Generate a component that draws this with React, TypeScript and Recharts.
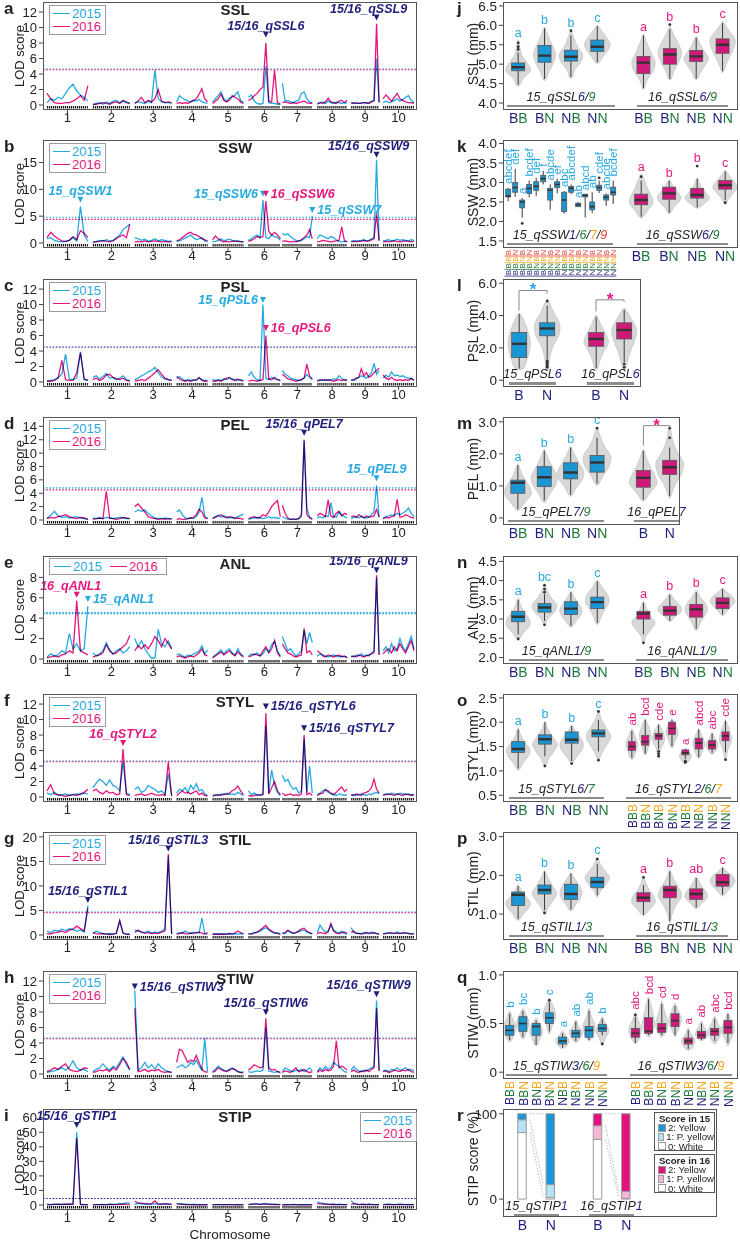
import React from "react";
import { LineChart, Line, XAxis, YAxis, ReferenceLine, ReferenceDot, BarChart, Bar, Cell } from "recharts";

const FONT = "'Liberation Sans', Arial, Helvetica, sans-serif";
const C15 = "#27a9e1";
const C16 = "#e5177e";
const NAVY = "#1f1f7d";
const GREEN = "#1f7a3a";
const ORANGE = "#f4a81d";
const RED = "#e53c2e";
const INK = "#222";
const BOX15 = "#1b96d3";
const BOX16 = "#cf1a7c";
const PALE15 = "#b3e2f5";
const PALE16 = "#f6b6d6";

const PLOT_H = 108;
const M = 14; // room above each chart for labels
const T = (k: number) => Math.round(2 + 138.4 * k);

// genetic map on a common axis: chromosome start and length
const CHR_START = [4, 50, 92, 134, 170, 206, 240, 275, 309, 341];
const CHR_LEN = [41, 37, 37, 31, 31, 32, 30, 30, 28, 31];
const CENTERS = CHR_START.map((s, i) => s + CHR_LEN[i] / 2);

// LOD profiles, 12 evenly spaced samples per chromosome
const SSL15 = [
  "0.3 0.8 0.6 1.0 0.8 1.5 2.2 2.7 1.8 1.3 1.0 0.5",
  "0.0 0.2 0.3 0.1 0.4 0.2 0.5 0.6 0.3 0.5 0.4 0.2",
  "0.3 0.4 0.3 0.2 0.5 0.3 4.5 0.8 0.4 0.3 0.3 0.2",
  "0.4 1.2 0.9 0.7 0.5 0.4 0.6 0.5 0.7 0.4 0.3 0.2",
  "0.4 0.8 1.2 1.7 0.8 0.5 0.9 1.0 1.3 1.7 0.6 0.3",
  "1.0 1.3 0.5 0.2 0.1 0.2 5.0 0.3 0.2 0.2 0.1 0.1",
  "2.8 0.5 0.6 0.4 0.3 0.5 0.6 1.5 1.7 0.8 0.4 0.3",
  "0.2 0.3 0.4 0.2 0.5 0.3 0.2 0.4 0.3 0.2 0.3 0.2",
  "0.2 0.3 0.2 0.2 0.3 0.3 0.2 0.3 0.5 0.6 6.0 0.3",
  "0.3 0.5 0.3 0.4 0.6 0.8 0.5 0.7 1.0 1.2 0.6 0.3",
];
const SSL16 = [
  "1.5 0.8 0.3 0.2 0.2 0.3 0.3 0.5 0.8 1.2 0.6 2.5",
  "0.1 0.1 0.2 0.3 0.2 0.1 0.3 0.4 0.2 0.6 0.3 0.2",
  "0.2 0.5 1.0 0.3 0.6 0.4 0.8 2.0 0.5 0.3 0.4 0.3",
  "0.2 0.3 0.2 0.3 0.2 0.4 0.6 0.8 1.4 2.1 0.8 0.4",
  "0.2 0.5 0.8 1.4 0.6 0.4 0.6 1.2 1.0 0.8 0.4 0.2",
  "0.6 0.8 1.2 1.5 2.0 2.3 8.0 0.5 0.4 4.5 0.3 0.1",
  "0.3 0.4 0.3 0.2 0.3 0.2 0.3 0.4 0.5 0.3 0.2 0.2",
  "0.1 0.3 0.2 0.4 0.9 0.4 0.3 0.2 0.5 0.6 0.3 0.6",
  "0.3 0.2 0.3 0.2 0.2 0.3 0.3 0.2 0.4 0.5 10.5 0.4",
  "0.8 1.3 0.9 0.5 1.0 1.5 0.8 0.6 0.4 0.3 0.3 0.2",
];
const SSW15 = [
  "0.8 1.0 0.5 0.3 0.2 0.3 0.5 1.0 0.4 6.8 1.5 0.3",
  "0.2 0.3 0.5 0.3 0.6 0.4 0.5 1.0 1.5 2.5 3.0 3.5",
  "1.0 0.8 0.5 0.7 0.3 0.5 0.8 0.4 0.6 0.5 0.3 0.4",
  "0.3 0.4 0.6 0.9 1.2 1.5 1.0 0.6 0.8 1.0 0.4 0.2",
  "0.2 0.3 0.5 0.8 0.4 0.6 0.7 0.5 0.3 0.4 0.3 0.2",
  "0.5 0.8 1.2 1.5 1.0 8.0 1.0 0.8 1.5 1.2 1.0 0.5",
  "1.8 1.5 1.7 1.2 0.8 0.5 0.3 0.5 0.8 1.2 1.0 5.0",
  "0.8 1.5 1.3 1.0 0.8 1.2 1.0 0.6 0.3 0.2 0.3 0.2",
  "0.3 0.5 0.4 0.3 0.5 0.6 0.4 0.5 0.8 1.0 15.5 0.5",
  "0.4 0.5 0.6 0.4 0.5 0.7 0.5 0.6 0.5 0.4 0.6 0.5",
];
const SSW16 = [
  "1.0 2.0 1.3 0.8 0.4 0.3 0.5 1.2 0.6 2.3 1.8 1.0",
  "0.1 0.2 0.3 0.5 0.3 0.2 0.4 0.8 1.2 1.5 1.0 3.5",
  "0.2 0.3 0.2 0.4 0.2 0.3 0.4 0.3 0.2 0.3 0.2 0.2",
  "0.4 0.6 1.0 1.4 1.8 2.0 1.6 1.5 1.2 0.8 0.6 0.4",
  "0.6 1.3 0.8 0.4 0.2 0.3 0.2 0.3 0.4 0.3 0.2 0.2",
  "0.3 0.5 0.8 1.2 1.0 1.2 7.8 2.2 1.5 2.0 1.5 0.8",
  "0.3 0.4 0.3 0.2 0.3 0.2 0.4 0.6 1.0 1.5 2.5 0.8",
  "0.2 0.3 0.5 0.4 0.3 0.2 0.3 0.4 0.5 3.0 0.4 0.3",
  "0.2 0.3 0.2 0.4 0.3 0.5 0.3 0.4 0.6 0.8 5.5 0.4",
  "0.2 0.3 0.2 0.3 0.4 0.3 0.2 0.3 0.4 0.3 0.2 0.3",
];
const PSL15 = [
  "0.1 0.2 0.3 0.6 1.0 3.6 0.4 0.3 0.5 3.9 0.3 0.2",
  "0.6 0.8 0.4 0.7 1.1 0.5 0.6 0.3 0.5 0.8 0.3 0.2",
  "0.3 0.5 0.8 1.0 1.3 1.5 1.9 1.2 0.6 0.4 0.3 0.2",
  "0.5 0.7 0.4 0.2 0.3 0.2 0.3 0.2 0.5 0.3 0.2 0.2",
  "0.3 0.2 0.3 0.2 0.4 0.3 0.5 0.4 0.3 0.2 0.3 0.2",
  "0.8 1.3 0.6 0.3 0.2 10.0 0.5 0.3 0.6 0.4 0.3 0.2",
  "1.5 1.0 0.8 0.5 0.4 0.3 0.2 0.3 0.5 1.0 0.6 0.3",
  "0.2 0.3 0.2 0.3 0.2 0.3 0.4 0.3 0.8 0.5 0.2 0.3",
  "0.3 0.2 0.4 0.6 0.8 0.7 0.5 0.8 1.2 2.4 1.0 1.5",
  "0.5 0.9 0.6 1.3 0.8 0.9 0.7 0.8 0.6 0.5 0.4 0.3",
];
const PSL16 = [
  "0.1 0.1 0.2 0.5 2.8 0.3 0.2 0.2 1.2 3.8 0.4 0.2",
  "0.3 0.5 0.2 0.4 0.9 1.0 0.6 0.4 0.3 0.5 0.2 0.1",
  "0.1 0.2 0.3 0.2 0.5 0.8 1.2 1.6 1.0 0.5 0.3 0.2",
  "0.7 0.4 0.2 0.1 0.2 0.1 0.2 0.3 0.6 0.2 0.1 0.1",
  "0.1 0.1 0.2 0.1 0.3 0.5 0.6 0.3 0.2 0.4 0.2 0.1",
  "0.1 0.2 0.2 0.1 0.2 0.3 6.0 0.4 0.3 0.6 0.3 0.2",
  "1.0 0.7 0.4 0.3 0.2 0.1 0.2 0.3 0.5 2.3 0.8 0.4",
  "0.1 0.2 0.3 0.2 0.3 0.2 0.1 0.2 0.3 0.2 0.3 0.2",
  "0.2 0.3 0.5 0.6 1.7 0.8 1.2 0.6 0.8 1.2 1.5 1.8",
  "0.9 0.5 0.3 0.6 0.3 0.2 0.3 0.2 0.3 0.2 0.5 0.2",
];
const PEL15 = [
  "0.3 0.7 1.3 0.6 0.4 0.5 0.3 0.4 0.5 0.3 0.2 0.1",
  "0.3 0.2 0.3 0.2 0.4 0.3 0.2 0.3 0.4 0.3 0.2 0.2",
  "1.2 1.5 1.3 1.5 1.0 0.6 0.3 0.2 0.2 0.3 0.2 0.2",
  "1.2 1.5 0.8 0.3 0.2 0.3 0.2 0.5 1.2 3.4 0.6 0.2",
  "0.3 0.5 0.7 0.4 0.6 0.5 0.3 0.4 0.3 0.5 0.7 0.9",
  "0.1 0.2 0.3 0.4 0.3 0.2 0.3 0.5 0.3 0.4 0.3 0.2",
  "0.5 0.3 0.1 0.1 0.2 0.1 0.2 0.5 11.8 1.7 0.5 0.2",
  "0.3 0.5 0.3 0.6 0.5 2.6 0.5 0.4 1.2 0.8 0.5 0.3",
  "0.2 0.4 0.5 0.3 0.6 0.4 0.3 0.5 0.8 1.2 5.2 0.4",
  "0.3 0.5 0.6 0.8 0.7 1.0 0.8 1.0 1.3 1.8 1.0 0.5",
];
const PEL16 = [
  "0.2 0.4 0.3 0.5 0.6 0.8 0.5 0.3 0.2 0.4 0.3 0.1",
  "0.1 0.2 0.3 0.2 4.3 0.3 0.2 0.1 0.2 0.4 0.3 0.2",
  "2.0 2.4 1.8 1.2 0.5 0.3 0.2 0.1 0.2 0.1 0.2 0.1",
  "0.1 0.2 0.1 0.1 0.2 0.3 0.4 0.8 1.6 1.2 0.3 0.2",
  "0.2 0.4 0.6 0.8 0.5 0.3 0.5 0.4 0.2 0.3 0.2 0.1",
  "0.2 0.4 0.5 0.3 0.4 0.8 0.6 1.2 2.0 2.5 2.9 0.5",
  "2.2 1.0 0.3 0.1 0.1 0.1 0.2 0.8 12.0 0.8 0.3 0.1",
  "0.6 1.0 0.8 0.5 3.0 0.6 0.4 1.0 1.3 0.6 1.0 0.8",
  "0.5 0.6 0.4 0.8 0.5 0.3 0.6 0.4 0.5 0.6 1.6 0.5",
  "0.2 0.4 0.3 0.5 0.6 3.1 0.4 0.5 0.8 0.6 0.4 0.3",
];
const ANL15 = [
  "0.2 0.5 0.3 0.4 0.8 0.6 2.5 1.0 1.5 0.8 1.0 5.2",
  "0.6 0.3 0.5 0.8 1.6 0.9 0.5 0.8 1.0 0.6 0.8 1.2",
  "2.0 1.2 1.8 1.0 0.5 0.1 0.1 2.9 1.5 1.2 1.8 1.0",
  "0.4 0.5 0.3 0.2 0.4 0.3 0.5 0.6 0.8 1.3 0.5 0.9",
  "0.2 0.4 0.6 0.9 0.5 0.8 1.0 0.6 0.4 1.0 0.5 0.3",
  "0.3 0.5 0.4 0.6 0.3 0.5 1.0 0.7 1.4 1.7 0.8 0.3",
  "2.2 1.5 0.8 1.0 0.6 0.3 0.5 0.8 2.8 1.5 2.6 1.6",
  "0.3 0.5 0.4 0.3 0.2 0.3 0.4 0.3 0.2 0.3 0.2 0.2",
  "0.3 0.2 0.4 0.3 0.5 0.3 0.4 0.3 0.6 0.8 8.0 0.5",
  "0.8 1.2 0.6 1.5 0.8 1.0 2.0 1.2 0.8 1.5 2.2 1.0",
];
const ANL16 = [
  "0.1 0.2 0.3 0.2 0.4 0.5 0.8 0.6 5.7 0.8 0.6 0.4",
  "0.2 0.3 0.4 0.6 1.4 0.8 0.5 0.6 0.9 1.2 1.5 2.3",
  "0.8 1.3 1.0 1.4 1.0 1.5 2.2 1.8 1.2 2.0 1.5 1.0",
  "0.2 0.3 0.2 0.1 0.2 0.3 0.2 0.4 0.6 1.0 0.4 0.3",
  "0.1 0.3 0.5 0.7 0.4 0.6 0.8 0.5 0.3 0.7 0.4 0.2",
  "0.2 0.3 0.5 0.4 0.3 0.8 1.2 0.6 1.0 1.8 0.6 0.2",
  "1.5 1.0 0.6 0.5 0.3 0.2 0.3 0.4 3.0 0.6 0.8 0.4",
  "0.8 0.6 0.3 0.2 0.4 0.3 0.2 0.3 0.4 0.2 0.3 0.1",
  "0.2 0.3 0.2 0.4 0.3 0.2 0.3 0.4 0.5 0.6 8.2 0.4",
  "0.5 0.8 1.0 0.6 1.2 0.8 1.5 1.0 0.6 1.2 1.8 0.8",
];
const STYL15 = [
  "0.5 0.3 0.6 0.2 0.3 0.4 0.2 0.3 0.4 0.3 0.5 0.4",
  "1.2 1.8 2.3 2.0 1.5 2.2 1.5 1.3 0.8 4.5 0.5 0.3",
  "1.0 1.3 0.6 0.8 1.5 1.2 1.0 0.6 0.8 0.3 3.0 0.2",
  "0.5 1.0 0.8 1.2 0.6 1.5 1.0 1.7 0.8 1.0 0.4 0.2",
  "0.2 0.3 0.2 0.4 0.3 0.5 0.3 0.4 0.3 0.6 0.4 0.2",
  "0.8 0.3 0.5 0.2 0.3 0.4 9.2 0.5 3.5 1.5 0.6 0.2",
  "2.8 2.0 2.3 1.5 1.0 1.2 0.5 0.8 7.5 0.6 4.0 0.5",
  "0.3 0.5 0.8 1.0 0.6 0.4 0.3 0.2 0.4 0.3 0.2 0.3",
  "0.2 0.3 0.2 0.3 0.4 0.3 0.2 0.4 0.3 0.5 0.6 0.4",
  "0.3 0.4 0.3 0.5 0.4 0.3 0.5 0.4 0.3 0.4 0.3 0.2",
];
const STYL16 = [
  "0.8 1.6 0.4 0.3 0.2 0.1 0.2 0.3 0.2 0.4 0.6 1.0",
  "0.8 1.0 0.6 0.4 0.8 0.5 0.6 0.3 0.4 6.2 0.3 0.2",
  "0.2 0.3 0.4 0.2 0.3 0.5 0.3 0.2 0.3 0.2 4.5 0.1",
  "0.2 0.5 0.8 0.5 0.6 0.4 0.6 0.8 0.3 0.5 0.2 0.1",
  "0.1 0.2 0.3 0.2 0.4 0.3 0.5 0.8 1.0 1.4 0.8 0.3",
  "0.2 0.1 0.2 0.3 0.2 0.3 10.8 0.4 1.2 2.0 0.8 0.3",
  "0.5 0.2 0.3 0.4 0.2 0.3 0.2 0.4 8.0 0.3 0.5 0.2",
  "0.2 0.4 0.5 0.9 0.8 0.5 0.3 0.6 1.0 1.3 0.7 1.0",
  "0.3 0.2 0.4 0.3 0.2 0.5 0.6 0.8 1.2 2.3 1.0 0.5",
  "0.2 0.3 0.4 0.3 0.2 0.4 0.3 0.2 0.4 0.3 0.2 0.3",
];
const STIL15 = [
  "0.8 0.5 1.0 0.8 1.2 0.9 1.3 1.1 0.8 1.0 0.6 6.0",
  "0.3 0.8 0.5 0.3 0.2 0.3 0.2 0.4 2.8 0.3 0.2 0.2",
  "1.0 0.8 0.6 0.5 0.8 0.4 0.6 0.5 0.8 1.2 16.0 0.2",
  "0.3 0.5 0.4 0.8 0.5 0.3 0.6 0.5 0.4 3.5 0.3 0.2",
  "0.3 0.2 0.3 0.2 0.3 0.2 0.3 0.2 0.3 0.2 0.3 0.2",
  "0.2 0.3 0.5 0.6 0.8 1.2 1.5 1.0 0.6 0.3 0.5 0.2",
  "0.5 0.3 0.8 0.6 0.4 0.5 0.7 0.9 1.0 0.6 0.4 0.3",
  "0.4 2.0 1.2 0.6 0.8 2.0 1.0 0.6 0.4 0.8 0.3 0.2",
  "1.5 0.5 0.3 0.4 0.3 0.5 0.4 0.3 0.6 0.4 0.3 0.2",
  "0.3 0.4 0.5 0.3 0.4 0.6 0.4 0.3 0.5 0.4 0.3 0.2",
];
const STIL16 = [
  "0.3 0.2 0.5 0.6 0.8 0.5 1.0 1.2 1.8 1.3 0.8 5.5",
  "0.5 0.3 0.2 0.3 0.2 0.1 0.2 0.3 3.0 0.4 0.2 0.1",
  "0.5 1.0 0.6 0.4 0.5 0.3 0.4 0.3 0.6 0.8 16.5 0.2",
  "0.2 0.3 0.5 0.3 0.2 0.4 0.3 0.5 0.6 0.4 0.2 0.5",
  "0.1 0.2 0.1 0.2 0.1 0.2 0.3 0.2 0.4 0.8 0.5 0.2",
  "0.3 0.2 0.4 0.6 1.0 1.5 2.0 1.2 0.8 0.5 0.3 0.2",
  "0.2 0.5 1.0 0.6 0.3 0.5 0.8 1.2 1.4 0.8 0.5 0.2",
  "0.2 0.5 0.4 0.3 0.6 2.4 0.8 0.4 0.3 0.5 0.6 0.4",
  "0.5 0.8 0.4 0.3 0.2 0.3 0.5 0.4 0.3 0.5 0.3 0.2",
  "0.2 0.3 0.4 0.5 0.3 0.4 0.3 0.5 0.4 0.3 0.2 0.3",
];
const STIW15 = [
  "0.2 0.3 0.4 0.6 0.8 0.5 0.9 1.7 0.8 0.5 0.6 0.3",
  "0.3 0.6 0.8 1.3 0.8 0.5 1.0 0.8 1.5 2.2 1.2 0.5",
  "10.8 0.5 0.8 1.5 0.8 1.2 0.6 1.3 0.8 0.5 0.3 0.2",
  "0.8 1.0 1.2 0.8 1.0 1.5 1.2 1.8 1.0 0.5 4.6 0.3",
  "0.3 0.6 1.0 0.7 0.5 0.4 0.6 0.8 0.5 0.3 0.2 0.3",
  "0.3 0.2 0.3 0.4 0.3 0.5 6.0 0.4 0.3 0.2 0.3 0.2",
  "0.3 0.8 0.6 0.4 0.3 0.5 0.4 0.6 0.3 0.5 0.8 0.4",
  "0.3 0.8 0.5 1.0 0.6 0.8 1.5 1.2 1.0 0.6 0.3 0.2",
  "0.5 1.0 0.6 0.4 0.3 0.5 0.4 0.6 0.8 1.0 9.5 0.5",
  "0.4 0.5 0.3 0.6 0.5 0.8 0.5 0.6 0.8 0.5 0.6 0.4",
];
const STIW16 = [
  "0.3 0.5 0.8 0.6 1.0 1.3 0.6 0.4 0.3 0.5 0.8 0.7",
  "0.2 0.3 0.5 0.4 0.6 0.3 0.8 0.5 1.2 2.0 1.5 0.6",
  "8.5 0.3 0.4 0.6 0.3 0.5 0.4 0.6 0.3 0.2 0.3 0.2",
  "1.5 3.2 3.0 2.2 1.5 1.8 1.6 2.4 1.5 0.6 0.3 0.2",
  "0.2 0.4 0.8 0.6 0.4 0.3 0.5 0.7 0.6 0.3 0.2 0.1",
  "0.5 0.8 1.2 1.0 0.8 0.9 7.2 0.8 0.5 0.6 0.3 0.2",
  "0.2 0.4 0.3 0.2 0.5 0.8 0.3 0.4 0.6 0.3 0.2 0.3",
  "0.2 0.5 0.3 0.6 0.4 0.5 1.0 4.3 0.8 1.0 0.8 0.5",
  "0.3 0.5 0.3 0.2 0.4 0.3 0.5 0.3 0.6 0.8 8.5 0.4",
  "0.3 0.4 0.2 0.3 0.5 0.4 0.3 0.5 0.4 0.6 0.3 0.2",
];
const STIP15 = [
  "0.5 0.3 0.5 0.4 0.6 0.5 0.8 0.6 50.0 0.5 0.3 0.2",
  "0.2 0.3 0.2 0.4 0.3 0.5 0.4 0.6 0.8 1.0 1.5 1.2",
  "0.5 1.2 0.8 0.6 0.5 0.4 1.0 0.6 0.8 1.0 0.8 0.5",
  "1.0 0.8 0.6 0.5 0.4 0.3 0.5 0.3 0.2 0.3 0.2 0.2",
  "0.2 0.3 0.2 0.3 0.2 0.3 0.2 0.3 0.2 0.3 0.2 0.3",
  "0.5 0.8 0.6 0.9 0.5 0.7 1.0 0.6 0.8 0.5 0.4 0.3",
  "0.2 0.3 0.2 0.3 0.4 0.3 0.2 0.3 0.2 0.3 0.2 0.2",
  "2.0 1.5 1.2 0.8 0.6 0.5 0.4 0.3 0.5 0.4 0.3 0.2",
  "3.0 1.0 0.5 0.3 0.6 0.4 0.3 0.5 0.4 0.3 0.2 0.3",
  "0.3 0.4 0.5 0.4 0.3 0.4 0.5 0.4 0.3 0.4 0.3 0.2",
];
const STIP16 = [
  "0.3 0.2 0.4 0.5 0.3 0.6 0.5 0.4 46.0 0.3 0.2 0.1",
  "0.1 0.2 0.3 0.2 0.3 0.4 0.2 0.3 0.5 0.6 0.4 0.3",
  "2.5 1.5 1.2 1.0 0.8 1.0 2.8 0.6 0.5 0.8 0.6 0.4",
  "0.8 0.6 0.5 0.3 0.2 0.3 0.2 0.1 0.2 0.1 0.2 0.1",
  "0.1 0.2 0.3 0.2 0.1 0.2 0.3 0.2 0.1 0.2 0.1 0.2",
  "0.3 0.5 0.8 0.6 0.4 0.8 0.6 0.5 0.3 0.4 0.2 0.2",
  "0.1 0.2 0.1 0.2 0.3 0.2 0.1 0.2 0.1 0.2 0.1 0.1",
  "1.0 0.8 0.6 0.5 0.4 0.3 0.5 0.3 0.2 0.3 0.2 0.2",
  "0.5 1.0 0.8 0.4 0.3 0.5 0.3 0.4 0.2 0.3 0.2 0.2",
  "0.2 0.3 0.4 0.3 0.2 0.3 0.4 0.3 0.2 0.3 0.2 0.2",
];

// genotype labels
const G1 = ["B", "N", "B", "N"];
const G2 = ["BB", "BN", "NB", "NN"];
const G3 = ["BBB", "BBN", "BNB", "BNN", "NBB", "NBN", "NNB", "NNN"];
const G4 = ["BBBB", "BBBN", "BBNB", "BBNN", "BNBB", "BNBN", "BNNB", "BNNN", "NBBB", "NBBN", "NBNB", "NBNN", "NNBB", "NNBN", "NNNB", "NNNN"];

// box stats: [violin min, whisker low, q1, median, q3, whisker high, violin max]
const SSL_BOX = [
  [4.45, 4.47, 4.83, 4.92, 5.03, 5.3, 5.6], [4.6, 4.62, 5.05, 5.22, 5.48, 5.92, 5.93],
  [4.65, 4.67, 5.08, 5.19, 5.36, 5.74, 5.86], [5.03, 5.05, 5.33, 5.45, 5.62, 5.98, 5.99],
  [4.37, 4.38, 4.76, 5.04, 5.2, 5.74, 5.75], [4.62, 4.62, 5.0, 5.25, 5.4, 5.9, 5.95],
  [4.62, 4.63, 5.07, 5.2, 5.35, 5.68, 5.7], [4.8, 4.82, 5.28, 5.5, 5.65, 6.06, 6.08],
];
const SSL_VIO = [
  [0.1, 0.4, 0.95, 0.7, 0.3, 0.15, 0.05], [0.1, 0.35, 0.7, 0.85, 0.6, 0.3, 0.05],
  [0.1, 0.3, 0.75, 0.9, 0.5, 0.25, 0.05], [0.1, 0.45, 0.8, 1.0, 0.75, 0.4, 0.05],
  [0.05, 0.3, 0.75, 0.9, 0.6, 0.3, 0.05], [0.1, 0.35, 0.7, 0.9, 0.7, 0.35, 0.05],
  [0.1, 0.35, 0.7, 0.95, 0.6, 0.3, 0.05], [0.05, 0.3, 0.6, 0.9, 0.95, 0.5, 0.05],
];
const SSL_OUT = [[5.38, 5.45, 5.55], [], [5.86], [], [], [6.02], [], []];
const SSL_SIG = ["a", "b", "b", "c", "a", "b", "b", "c"];

const SSW_L_BOX = [
  [2.52, 2.52, 2.63, 2.65, 2.83, 2.86, 2.86], [2.63, 2.63, 2.75, 2.87, 3.0, 3.35, 3.35],
  [2.1, 2.1, 2.35, 2.5, 2.55, 2.6, 2.6], [2.62, 2.62, 2.72, 2.85, 2.95, 3.05, 3.05],
  [2.65, 2.65, 2.8, 2.9, 3.02, 3.12, 3.12], [2.95, 2.95, 3.02, 3.1, 3.18, 3.3, 3.3],
  [2.3, 2.3, 2.55, 2.8, 2.85, 2.95, 2.95], [2.72, 2.72, 2.87, 2.95, 3.02, 3.1, 3.1],
  [2.2, 2.2, 2.25, 2.55, 2.75, 2.78, 2.78], [2.7, 2.7, 2.75, 2.85, 2.9, 2.95, 2.95],
  [2.37, 2.37, 2.38, 2.43, 2.47, 2.5, 2.5], [2.1, 2.1, 2.63, 2.67, 2.7, 2.7, 2.7],
  [2.22, 2.22, 2.3, 2.38, 2.5, 2.75, 2.75], [2.73, 2.73, 2.8, 2.87, 2.93, 3.05, 3.05],
  [2.4, 2.4, 2.55, 2.62, 2.68, 2.72, 2.72], [2.45, 2.45, 2.68, 2.75, 2.88, 3.05, 3.05],
];
const SSW_L_OUT = [[], [], [1.95], [], [], [], [], [], [], [], [], [], [], [3.12], [], []];
const SSW_L_SIG = ["abcdef", "def", "a", "bcdef", "def", "f", "abcde", "ef", "abc", "abcdef", "ab", "abcd", "ab", "cdef", "abcde", "bcdef"];
const SSW_R_BOX = [
  [2.1, 2.12, 2.43, 2.55, 2.7, 3.05, 3.2], [2.22, 2.22, 2.57, 2.72, 2.88, 3.05, 3.05],
  [2.35, 2.36, 2.6, 2.68, 2.85, 3.1, 3.1], [2.45, 2.55, 2.83, 2.93, 3.05, 3.28, 3.3],
];
const SSW_R_VIO = [
  [0.1, 0.5, 0.9, 0.8, 0.5, 0.3, 0.05], [0.1, 0.35, 0.75, 0.9, 0.6, 0.3, 0.05],
  [0.1, 0.6, 0.95, 0.7, 0.4, 0.2, 0.05], [0.05, 0.3, 0.65, 0.95, 0.7, 0.35, 0.05],
];
const SSW_R_OUT = [[3.15], [], [3.42], [2.48]];
const SSW_R_SIG = ["a", "b", "b", "c"];

const PSL_BOX = [
  [0.7, 0.72, 1.4, 2.25, 2.95, 4.1, 4.1], [0.7, 1.3, 2.75, 3.2, 3.55, 4.6, 4.9],
  [0.7, 0.75, 2.1, 2.55, 2.95, 3.9, 4.0], [0.7, 1.1, 2.55, 3.1, 3.55, 4.35, 4.4],
];
const PSL_VIO = [
  [0.3, 0.6, 0.8, 0.85, 0.7, 0.45, 0.1], [0.1, 0.2, 0.45, 0.9, 0.95, 0.5, 0.1],
  [0.1, 0.3, 0.6, 0.95, 0.7, 0.35, 0.05], [0.1, 0.3, 0.55, 0.85, 0.95, 0.55, 0.1],
];
const PSL_OUT = [[], [0.8, 0.9, 1.0, 1.1, 1.2, 4.9], [], [0.8, 1.0]];

const PEL_BOX = [
  [0.25, 0.27, 0.77, 1.1, 1.18, 1.65, 1.65], [0.5, 0.55, 0.98, 1.27, 1.6, 2.1, 2.1],
  [0.7, 0.72, 1.22, 1.42, 1.72, 2.2, 2.2], [1.05, 1.07, 1.43, 1.73, 1.95, 2.5, 2.8],
  [0.55, 0.57, 0.96, 1.25, 1.48, 2.1, 2.1], [0.65, 0.68, 1.36, 1.58, 1.8, 2.2, 2.8],
];
const PEL_VIO = [
  [0.1, 0.5, 0.9, 0.85, 0.5, 0.25, 0.05], [0.1, 0.4, 0.8, 0.9, 0.6, 0.3, 0.05],
  [0.1, 0.4, 0.8, 0.9, 0.6, 0.3, 0.05], [0.1, 0.45, 0.85, 0.95, 0.55, 0.25, 0.05],
  [0.1, 0.5, 0.95, 0.8, 0.5, 0.25, 0.05], [0.05, 0.35, 0.8, 0.95, 0.5, 0.2, 0.05],
];
const PEL_OUT = [[], [], [], [2.8], [], [2.5, 2.8]];
const PEL_SIG = ["a", "b", "b", "c", "", ""];

const ANL_BOX = [
  [2.48, 2.6, 2.93, 3.06, 3.2, 3.5, 3.52], [2.85, 2.95, 3.18, 3.3, 3.4, 3.65, 3.88],
  [2.8, 2.82, 3.12, 3.27, 3.45, 3.7, 3.7], [2.88, 2.9, 3.27, 3.44, 3.57, 3.98, 4.0],
  [2.38, 2.6, 3.0, 3.14, 3.2, 3.42, 3.45], [2.95, 2.95, 3.1, 3.22, 3.33, 3.63, 3.65],
  [2.72, 2.75, 3.05, 3.25, 3.38, 3.7, 3.72], [3.1, 3.12, 3.27, 3.42, 3.55, 3.78, 3.8],
];
const ANL_VIO = [
  [0.1, 0.45, 0.9, 0.85, 0.5, 0.2, 0.05], [0.05, 0.3, 0.8, 0.95, 0.55, 0.25, 0.05],
  [0.1, 0.4, 0.75, 0.85, 0.6, 0.3, 0.05], [0.1, 0.3, 0.6, 0.9, 0.8, 0.4, 0.05],
  [0.05, 0.2, 0.6, 0.9, 0.5, 0.25, 0.05], [0.1, 0.4, 0.85, 0.9, 0.6, 0.3, 0.05],
  [0.1, 0.3, 0.6, 0.85, 0.75, 0.35, 0.05], [0.1, 0.35, 0.7, 0.95, 0.8, 0.4, 0.05],
];
const ANL_OUT = [[2.48], [2.85, 3.7, 3.78, 3.88], [], [], [2.38], [], [], []];
const ANL_SIG = ["a", "bc", "b", "c", "a", "b", "b", "c"];

const STYL_L_BOX = [
  [1.03, 1.05, 1.38, 1.45, 1.6, 1.85, 1.87], [1.1, 1.3, 1.55, 1.65, 1.74, 2.0, 2.0],
  [1.15, 1.2, 1.57, 1.64, 1.8, 1.92, 1.93], [1.22, 1.4, 1.7, 1.77, 1.84, 2.05, 2.22],
];
const STYL_L_VIO = [
  [0.1, 0.4, 0.8, 0.9, 0.5, 0.2, 0.05], [0.05, 0.3, 0.7, 0.95, 0.6, 0.25, 0.05],
  [0.05, 0.35, 0.75, 0.9, 0.7, 0.3, 0.05], [0.05, 0.3, 0.7, 0.95, 0.6, 0.25, 0.05],
];
const STYL_L_OUT = [[], [1.1], [1.15], [1.22, 2.22]];
const STYL_L_SIG = ["a", "b", "b", "c"];
const STYL_R_BOX = [
  [1.25, 1.27, 1.42, 1.5, 1.6, 1.82, 1.85], [1.35, 1.35, 1.53, 1.6, 1.73, 2.05, 2.05],
  [1.3, 1.45, 1.65, 1.72, 1.77, 1.95, 1.95], [1.5, 1.5, 1.75, 1.87, 2.0, 2.05, 2.05],
  [1.17, 1.25, 1.33, 1.37, 1.43, 1.45, 1.45], [1.28, 1.28, 1.45, 1.57, 1.67, 1.85, 1.85],
  [1.35, 1.37, 1.45, 1.53, 1.62, 1.77, 1.77], [1.23, 1.38, 1.62, 1.72, 1.8, 2.03, 2.03],
];
const STYL_R_VIO = [
  [0.2, 0.7, 1, 0.6, 0.1], [0.2, 0.6, 1, 0.7, 0.1], [0.1, 0.4, 1, 0.8, 0.1], [0.2, 0.6, 1, 0.8, 0.1],
  [0.3, 0.8, 1, 0.7, 0.1], [0.2, 0.7, 1, 0.6, 0.1], [0.2, 0.8, 1, 0.5, 0.1], [0.1, 0.4, 1, 0.7, 0.1],
];
const STYL_R_OUT = [[], [], [1.3, 1.35, 1.4], [], [1.17, 1.2], [], [], [1.23]];
const STYL_R_SIG = ["ab", "bcd", "cde", "e", "a", "abcd", "abc", "cde"];

const STIL_BOX = [
  [0.85, 0.87, 1.22, 1.5, 1.57, 1.72, 1.75], [1.0, 1.1, 1.52, 1.62, 1.75, 2.1, 2.1],
  [1.1, 1.12, 1.38, 1.52, 1.77, 2.05, 2.05], [1.45, 1.48, 1.68, 1.83, 1.95, 2.3, 2.45],
  [0.97, 0.98, 1.32, 1.42, 1.55, 1.75, 1.95], [0.8, 0.82, 1.42, 1.62, 1.72, 2.1, 2.12],
  [1.15, 1.17, 1.38, 1.52, 1.65, 1.93, 1.95], [1.48, 1.5, 1.72, 1.82, 2.02, 2.2, 2.2],
];
const STIL_VIO = [
  [0.1, 0.4, 0.8, 0.95, 0.6, 0.25, 0.05], [0.05, 0.3, 0.7, 0.95, 0.6, 0.3, 0.05],
  [0.1, 0.4, 0.75, 0.85, 0.65, 0.35, 0.05], [0.05, 0.3, 0.7, 0.95, 0.6, 0.25, 0.05],
  [0.1, 0.5, 0.9, 0.8, 0.45, 0.2, 0.05], [0.05, 0.2, 0.5, 0.9, 0.7, 0.3, 0.05],
  [0.1, 0.45, 0.85, 0.8, 0.5, 0.25, 0.05], [0.1, 0.4, 0.75, 0.95, 0.85, 0.4, 0.05],
];
const STIL_OUT = [[], [1.03], [], [2.42], [1.95], [], [], []];
const STIL_SIG = ["a", "b", "b", "c", "a", "b", "ab", "c"];

const STIW_L_BOX = [
  [0.32, 0.33, 0.38, 0.43, 0.48, 0.6, 0.62], [0.35, 0.36, 0.42, 0.5, 0.57, 0.63, 0.65],
  [0.28, 0.28, 0.38, 0.47, 0.5, 0.53, 0.55], [0.4, 0.42, 0.5, 0.56, 0.61, 0.72, 0.75],
  [0.25, 0.25, 0.29, 0.32, 0.36, 0.4, 0.42], [0.31, 0.32, 0.36, 0.4, 0.43, 0.52, 0.53],
  [0.33, 0.33, 0.36, 0.43, 0.47, 0.63, 0.65], [0.28, 0.38, 0.42, 0.45, 0.49, 0.55, 0.56],
];
const STIW_L_VIO = [
  [0.2, 0.8, 1, 0.5, 0.1], [0.2, 0.6, 1, 0.6, 0.1], [0.2, 0.6, 1, 0.7, 0.1], [0.1, 0.5, 1, 0.7, 0.1],
  [0.3, 0.9, 1, 0.5, 0.1], [0.2, 0.8, 1, 0.4, 0.1], [0.2, 0.8, 0.9, 0.4, 0.1], [0.1, 0.5, 1, 0.6, 0.1],
];
const STIW_L_OUT = [[], [], [], [0.74], [], [], [], [0.29]];
const STIW_L_SIG = ["b", "bc", "b", "c", "a", "ab", "ab", "b"];
const STIW_R_BOX = [
  [0.3, 0.3, 0.36, 0.4, 0.45, 0.57, 0.6], [0.37, 0.38, 0.4, 0.42, 0.56, 0.75, 0.76],
  [0.37, 0.38, 0.41, 0.45, 0.5, 0.7, 0.72], [0.37, 0.38, 0.47, 0.53, 0.6, 0.68, 0.7],
  [0.23, 0.24, 0.29, 0.32, 0.35, 0.43, 0.45], [0.33, 0.33, 0.35, 0.38, 0.42, 0.5, 0.52],
  [0.3, 0.32, 0.38, 0.42, 0.45, 0.55, 0.57], [0.28, 0.3, 0.4, 0.46, 0.53, 0.6, 0.6],
];
const STIW_R_VIO = [
  [0.2, 0.8, 1, 0.5, 0.1], [0.2, 0.9, 0.8, 0.5, 0.1], [0.2, 0.9, 0.8, 0.4, 0.1], [0.1, 0.6, 1, 0.6, 0.1],
  [0.3, 0.9, 1, 0.4, 0.1], [0.3, 0.9, 0.8, 0.4, 0.1], [0.2, 0.8, 1, 0.5, 0.1], [0.1, 0.6, 1, 0.6, 0.1],
];
const STIW_R_OUT = [[0.59], [], [], [], [], [], [], []];
const STIW_R_SIG = ["abc", "bcd", "cd", "d", "a", "ab", "abc", "bcd"];

// STIP score distribution (%): white, pale yellow, yellow
const STIP_GROUP = ["15 B", "15 N", "16 B", "16 N"];
const STIP_WHITE = [78, 2, 70, 1];
const STIP_PALE = [15, 15, 16, 8];
const STIP_FULL = [7, 83, 14, 91];

// ---------- helpers ----------
function chrX(c: number, i: number, n = 12) {
  return CHR_START[c] + (CHR_LEN[c] * i) / (n - 1);
}

function toSeries(chrs: string[]) {
  const out: { x: number; y: number | null }[] = [];
  chrs.forEach((s, c) => {
    const v = s.trim().split(/\s+/).map(Number);
    v.forEach((y, i) => out.push({ x: chrX(c, i, v.length), y }));
    out.push({ x: CHR_START[c] + CHR_LEN[c] + 1, y: null });
  });
  return out;
}

function smoothClosed(p: number[][]) {
  const n = p.length;
  let d = `M${p[0][0].toFixed(2)},${p[0][1].toFixed(2)}`;
  for (let i = 0; i < n; i++) {
    const p0 = p[(i - 1 + n) % n], p1 = p[i], p2 = p[(i + 1) % n], p3 = p[(i + 2) % n];
    const c1 = [p1[0] + (p2[0] - p0[0]) / 6, p1[1] + (p2[1] - p0[1]) / 6];
    const c2 = [p2[0] - (p3[0] - p1[0]) / 6, p2[1] - (p3[1] - p1[1]) / 6];
    d += `C${c1[0].toFixed(2)},${c1[1].toFixed(2)} ${c2[0].toFixed(2)},${c2[1].toFixed(2)} ${p2[0].toFixed(2)},${p2[1].toFixed(2)}`;
  }
  return d + "Z";
}

const Abs = ({ x, y, children, style }: any) => (
  <div style={{ position: "absolute", left: x, top: y, whiteSpace: "nowrap", ...style }}>{children}</div>
);

const VLabel = ({ x, y, text, size = 13 }: any) => (
  <div style={{ position: "absolute", left: x, top: y, transform: "translate(-50%,-50%) rotate(-90deg)", whiteSpace: "nowrap", fontSize: size, color: INK }}>{text}</div>
);

const Letter = ({ x, y, t }: any) => (
  <Abs x={x} y={Math.max(0, y)} style={{ fontSize: 17, fontWeight: "bold", color: INK, lineHeight: "17px" }}>{t}</Abs>
);

const Frame = ({ x, y, w, h = PLOT_H }: any) => (
  <div style={{ position: "absolute", left: x, top: y, width: w, height: h, border: "1.3px solid #555", boxSizing: "border-box", pointerEvents: "none" }} />
);

function YearLegend({ x, y, horizontal }: any) {
  const item = (c: string, t: string) => (
    <span style={{ display: "inline-flex", alignItems: "center", marginRight: horizontal ? 8 : 0 }}>
      <span style={{ display: "inline-block", width: 17, height: 0, borderTop: `1.5px solid ${c}`, marginRight: 2 }} />
      <span style={{ color: c }}>{t}</span>
    </span>
  );
  return (
    <div style={{ position: "absolute", left: x, top: y, border: "1px solid #9a9a9a", background: "#fff", padding: horizontal ? "1px 0 1px 4px" : "1px 4px 1px 3px", fontSize: 13, lineHeight: "13px", display: "flex", flexDirection: horizontal ? "row" : "column" }}>
      {item(C15, "2015")}
      {item(C16, "2016")}
    </div>
  );
}

function noteShape(n: any) {
  return (p: any) => {
    const { cx, cy } = p;
    let anchor = "middle", tx = cx + (n.dx || 0), ty = cy - 8;
    if (n.pos === "left") { anchor = "end"; tx = cx - 5; ty = cy + 1; }
    if (n.pos === "right") { anchor = "start"; tx = cx + 5; ty = cy + 1; }
    return (
      <g>
        <path d={`M${cx - 3},${cy - 6}L${cx + 3},${cy - 6}L${cx},${cy}Z`} fill={n.color} />
        <text x={tx} y={ty} textAnchor={anchor} fill={n.color} fontSize={12.5} fontWeight="bold" fontStyle="italic" fontFamily={FONT}>{n.text}</text>
      </g>
    );
  };
}

function LodPanel({ k, letter, title, s15, s16, yTop, yTicks, thr, notes, legend, xTitle, ph = PLOT_H }: any) {
  const top = T(k);
  const d0 = -(5 / (ph - 5)) * yTop;
  const mk = -(2.3 / (ph - 5)) * yTop;
  const a15 = toSeries(s15);
  const a16 = toSeries(s16);
  const markers = CHR_START.flatMap((s, c) => [
    { x: s, y: mk }, { x: s + CHR_LEN[c], y: mk }, { x: s + CHR_LEN[c] + 1, y: null },
  ]);
  return (
    <>
      <div style={{ position: "absolute", left: 0, top: top - M }}>
        <LineChart width={420} height={ph + 22 + M} margin={{ top: M, right: 3, bottom: 0, left: 0 }}>
          <XAxis type="number" dataKey="x" domain={[0, 375]} ticks={CENTERS} interval={0}
            tickFormatter={(v: number) => String(CENTERS.indexOf(v) + 1)} axisLine={false}
            tickSize={3} tickMargin={0} stroke="#444" tick={{ fontSize: 13, fill: INK, fontFamily: FONT }} height={22} allowDataOverflow />
          <YAxis type="number" domain={[d0, yTop]} ticks={yTicks} interval={0} width={43} axisLine={false}
            tickSize={4} stroke="#444" tick={{ fontSize: 13, fill: INK, fontFamily: FONT }} allowDataOverflow />
          {thr.map((t: any, i: number) => (
            <ReferenceLine key={i} y={t.y} stroke={t.c} strokeDasharray="1.6 1.6" strokeWidth={1.1} />
          ))}
          <Line data={markers} dataKey="y" stroke="#111" strokeWidth={2.4} strokeDasharray="1.2 0.8" dot={false} isAnimationActive={false} connectNulls={false} />
          <Line className="blend" data={a15} dataKey="y" type="linear" stroke={C15} strokeWidth={1.3} dot={false} isAnimationActive={false} connectNulls={false} />
          <Line className="blend" data={a16} dataKey="y" type="linear" stroke={C16} strokeWidth={1.3} dot={false} isAnimationActive={false} connectNulls={false} />
          {notes.map((n: any, i: number) => (
            <ReferenceDot key={i} x={chrX(n.c, n.i)} y={n.y} r={3} ifOverflow="visible" shape={noteShape(n)} />
          ))}
        </LineChart>
      </div>
      <Frame x={43} y={top} w={374} h={ph} />
      <Letter x={4} y={top - 2} t={letter} />
      <VLabel x={19} y={top + ph / 2} text="LOD score" />
      <Abs x={235} y={top} style={{ transform: "translateX(-50%)", fontSize: 15, fontWeight: "bold", color: INK, lineHeight: "15px" }}>{title}</Abs>
      {legend === "h" ? <YearLegend x={49} y={top + 2} horizontal /> : legend === "tr" ? <YearLegend x={360} y={top + 3} /> : <YearLegend x={49} y={top + 3} />}
      {xTitle ? <Abs x={230} y={top + ph + 17} style={{ transform: "translateX(-50%)", fontSize: 13.5, lineHeight: "15px", color: INK }}>{xTitle}</Abs> : null}
    </>
  );
}

function makeBoxes(st: number[][], out: number[][], vio: number[][], sig: string[], labs: string[], o: any) {
  return st.map((s, i) => ({ st: s, out: out[i] || [], vio: vio[i] || [], sig: sig[i] || "", lab: labs[i], ...o }));
}

function boxRange(b: any) {
  return [Math.min(b.st[0], ...b.out), Math.max(b.st[6], ...b.out)];
}

function BoxShape(p: any) {
  const { x, y, width, height, payload } = p;
  const b = payload && payload.box;
  if (!b || !isFinite(y) || !isFinite(height)) return <g />;
  const [lo, wlo, q1, med, q3, whi, hi] = b.st;
  const [bot, topV] = boxRange(b);
  const yb = Math.max(y, y + height);
  const yt = Math.min(y, y + height);
  const py = (v: number) => yb - ((v - bot) / (topV - bot)) * (yb - yt);
  const cx = x + width / 2;
  let vio = null;
  if (b.vio.length && b.vw) {
    const n = b.vio.length;
    const R = b.vio.map((f: number, i: number) => [cx + (f * b.vw) / 2, py(lo + ((hi - lo) * i) / (n - 1))]);
    const L = b.vio.map((f: number, i: number) => [cx - (f * b.vw) / 2, py(lo + ((hi - lo) * i) / (n - 1))]).reverse();
    vio = <path d={smoothClosed([...R, ...L])} fill="#d8d8d8" stroke="#bdbdbd" strokeWidth={0.6} />;
  }
  const hw = b.bw / 2;
  const sy = py(topV) - 4;
  return (
    <g>
      {vio}
      <line x1={cx} x2={cx} y1={py(whi)} y2={py(q3)} stroke="#3a3a3a" strokeWidth={1} />
      <line x1={cx} x2={cx} y1={py(q1)} y2={py(wlo)} stroke="#3a3a3a" strokeWidth={1} />
      <rect x={cx - hw} y={py(q3)} width={b.bw} height={Math.max(0.8, py(q1) - py(q3))} fill={b.fill} stroke="#555" strokeWidth={0.8} />
      <line x1={cx - hw} x2={cx + hw} y1={py(med)} y2={py(med)} stroke="#333" strokeWidth={b.bw > 9 ? 2.4 : 1.6} />
      {b.out.map((v: number, i: number) => <circle key={i} cx={cx} cy={py(v)} r={1.4} fill="#333" />)}
      {b.sig ? (b.sigRot ? (
        <text transform={`translate(${cx + 4},${sy}) rotate(-90)`} textAnchor="start" fontSize={11.5} fill={b.sigColor} fontFamily={FONT}>{b.sig}</text>
      ) : (
        <text x={cx} y={sy} textAnchor="middle" fontSize={12.5} fill={b.sigColor} fontFamily={FONT}>{b.sig}</text>
      )) : null}
    </g>
  );
}

function GenoTick({ x, y, payload, rows }: any) {
  const row = rows.find((r: any) => r.id === payload.value);
  const b = row && row.box;
  if (!b) return <g />;
  const chars = b.lab.split("");
  if (b.labKind === "h") {
    return (
      <text x={x} y={y + 11} textAnchor="middle" fontSize={14} fontFamily={FONT}>
        {chars.map((c: string, i: number) => <tspan key={i} fill={b.labColors[i]}>{c}</tspan>)}
      </text>
    );
  }
  if (b.labKind === "v") {
    return (
      <text transform={`translate(${x + 4.5},${y}) rotate(-90)`} textAnchor="end" fontSize={12} fontFamily={FONT}>
        {chars.map((c: string, i: number) => <tspan key={i} fill={b.labColors[i]}>{c}</tspan>)}
      </text>
    );
  }
  return (
    <g>
      {[3, 2, 1, 0].map((ci, r) => (
        <g key={r}>
          <text transform={`translate(${x},${y + 2.5 + r * 6.7}) rotate(-90)`} textAnchor="middle" dominantBaseline="central" fontSize={8} fill={b.labColors[ci]} fontFamily={FONT}>{chars[ci]}</text>
          <line x1={x - 3.5} x2={x + 3.5} y1={y + 6 + r * 6.7} y2={y + 6 + r * 6.7} stroke={b.labColors[ci]} strokeWidth={0.8} />
        </g>
      ))}
    </g>
  );
}

function GroupLabel({ x1, x2, parts, bottom, thick }: any) {
  return (
    <>
      <Abs x={(x1 + x2) / 2} y={bottom - 20} style={{ transform: "translateX(-50%)", fontSize: 12.5, fontStyle: "italic", lineHeight: "14px", color: INK }}>
        {parts.map((p: any, i: number) => <span key={i} style={{ color: p[1] }}>{p[0]}</span>)}
      </Abs>
      <div style={{ position: "absolute", left: x1, top: bottom - 5, width: x2 - x1, height: thick ? 2.5 : 1.5, background: "#8c8c8c" }} />
    </>
  );
}

const fmt1 = (v: number) => (v === 0 ? "0" : v.toFixed(1));

function BoxPanel({ k, letter, yLabel, dom, ticks, right, N, padL, padR, xh = 20, slots, items, groups, brackets = [] }: any) {
  const top = T(k);
  const rows = Array.from({ length: N }, (_, i) => ({ id: "s" + i, box: items[slots.indexOf(i)] }));
  const W = right - 503;
  const w = (W - padL - padR) / N;
  const sx = (i: number) => 503 + padL + (i + 0.5) * w;
  const py = (v: number) => top + ((dom[1] - v) / (dom[1] - dom[0])) * PLOT_H;
  return (
    <>
      <div style={{ position: "absolute", left: 455, top: top - M }}>
        <BarChart width={right - 455 + 1} height={PLOT_H + xh + M} data={rows} margin={{ top: M, right: 1, bottom: 0, left: 0 }}>
          <XAxis dataKey="id" type="category" interval={0} tickLine={false} tickSize={0} axisLine={false} height={xh}
            padding={{ left: padL, right: padR }} tick={(p: any) => <GenoTick {...p} rows={rows} />} />
          <YAxis type="number" domain={dom} ticks={ticks} interval={0} width={48} axisLine={false} tickSize={4}
            stroke="#444" tickFormatter={fmt1} tick={{ fontSize: 13.5, fill: INK, fontFamily: FONT }} allowDataOverflow />
          <Bar dataKey={(d: any) => (d.box ? boxRange(d.box) : null)} isAnimationActive={false} shape={(p: any) => <BoxShape {...p} />} />
        </BarChart>
      </div>
      <Frame x={503} y={top} w={W} />
      <Letter x={457} y={top - 2} t={letter} />
      <VLabel x={473} y={top + 52} text={yLabel} size={14} />
      {groups.map((g: any, i: number) => <GroupLabel key={i} {...g} bottom={top + PLOT_H} />)}
      {brackets.length ? (
        <svg style={{ position: "absolute", left: 0, top: 0, overflow: "visible" }} width={1} height={1}>
          {brackets.map((b: any, i: number) => {
            const x1 = sx(b.a), x2 = sx(b.b);
            return (
              <g key={i}>
                <path d={`M${x1},${py(b.yl)}V${py(b.yt)}H${x2}V${py(b.yr)}`} fill="none" stroke="#888" strokeWidth={1} />
                <text x={(x1 + x2) / 2} y={py(b.yt) + 5} textAnchor="middle" fontSize={17} fontWeight="bold" fill={b.c} fontFamily={FONT}>*</text>
              </g>
            );
          })}
        </svg>
      ) : null}
    </>
  );
}

function ScorePanel() {
  const top = T(8);
  const right = 717, N = 12, padL = 14.75, padR = 86;
  const dom = [-21, 105.6];
  const slots = [0, 3, 8, 11];
  const rows = Array.from({ length: N }, (_, i) => {
    const j = slots.indexOf(i);
    if (j < 0) return { id: "s" + i };
    return { id: "s" + i, w: STIP_WHITE[j], p: STIP_PALE[j], f: STIP_FULL[j], yr: STIP_GROUP[j].slice(0, 2), g: STIP_GROUP[j].slice(3) };
  });
  const W = right - 503;
  const w = (W - padL - padR) / N;
  const sx = (i: number) => 503 + padL + (i + 0.5) * w;
  const py = (v: number) => top + ((dom[1] - v) / (dom[1] - dom[0])) * PLOT_H;
  const tick = ({ x, y, payload }: any) => {
    const r: any = rows.find((q) => q.id === payload.value);
    if (!r || !r.g) return <g />;
    return <text x={x} y={y + 11} textAnchor="middle" fontSize={14} fill={NAVY} fontFamily={FONT}>{r.g}</text>;
  };
  const conn = (a: number, b: number) => {
    const ca = [STIP_WHITE[a], STIP_WHITE[a] + STIP_PALE[a], 100];
    const cb = [STIP_WHITE[b], STIP_WHITE[b] + STIP_PALE[b], 100];
    const xa = sx(slots[a]) + 7.5, xb = sx(slots[b]) - 7.5;
    return ca.map((v, i) => <line key={`${a}-${i}`} x1={xa} y1={py(v)} x2={xb} y2={py(cb[i])} stroke="#aaa" strokeWidth={0.8} strokeDasharray="1.5 1.5" />);
  };
  const legendBox = (y: number, yr: string, full: string, pale: string) => (
    <div style={{ position: "absolute", left: 654, top: y, width: 61, height: 39, border: "1px solid #555", background: "#fff", fontSize: 9.6, lineHeight: "9.2px", padding: "1px 0 0 3px", boxSizing: "border-box", color: INK, overflow: "hidden" }}>
      <div style={{ fontWeight: "bold", textAlign: "center", paddingRight: 3, whiteSpace: "nowrap" }}>Score in {yr}</div>
      {[[full, "2: Yellow"], [pale, "1: P. yellow"], ["#fff", "0: White"]].map((it, i) => (
        <div key={i} style={{ display: "flex", alignItems: "center", whiteSpace: "nowrap" }}>
          <span style={{ display: "inline-block", width: 6, height: 6, background: it[0], border: "1px solid #999", marginRight: 2 }} />
          {it[1]}
        </div>
      ))}
    </div>
  );
  const colour = (r: any, a: string, b: string) => (r.yr === "15" ? a : b);
  return (
    <>
      <div style={{ position: "absolute", left: 455, top: top - M }}>
        <BarChart width={right - 455 + 1} height={PLOT_H + 20 + M} data={rows} margin={{ top: M, right: 1, bottom: 0, left: 0 }}>
          <XAxis dataKey="id" type="category" interval={0} tickLine={false} tickSize={0} axisLine={false} height={20} padding={{ left: padL, right: padR }} tick={tick} />
          <YAxis type="number" domain={dom} ticks={[0, 100]} interval={0} width={48} axisLine={false} tickSize={4} stroke="#444" tick={{ fontSize: 13.5, fill: INK, fontFamily: FONT }} allowDataOverflow />
          <Bar dataKey="w" stackId="s" barSize={15} isAnimationActive={false} stroke="#9a9a9a" strokeWidth={1}>
            {rows.map((r) => <Cell key={r.id} fill="#ffffff" />)}
          </Bar>
          <Bar dataKey="p" stackId="s" barSize={15} isAnimationActive={false} stroke="#9a9a9a" strokeWidth={1}>
            {rows.map((r) => <Cell key={r.id} fill={colour(r, PALE15, PALE16)} />)}
          </Bar>
          <Bar dataKey="f" stackId="s" barSize={15} isAnimationActive={false} stroke="#9a9a9a" strokeWidth={1}>
            {rows.map((r) => <Cell key={r.id} fill={colour(r, BOX15, "#e0127f")} />)}
          </Bar>
        </BarChart>
      </div>
      <svg style={{ position: "absolute", left: 0, top: 0, overflow: "visible" }} width={1} height={1}>
        {conn(0, 1)}
        {conn(2, 3)}
      </svg>
      <Frame x={503} y={top} w={W} />
      <Letter x={457} y={top - 2} t="r" />
      <VLabel x={473} y={top + 50} text="STIP score (%)" size={14} />
      <GroupLabel x1={514} x2={559} bottom={top + PLOT_H + 2} parts={[["15_qSTIP", INK], ["1", NAVY]]} />
      <GroupLabel x1={589} x2={634} bottom={top + PLOT_H + 2} parts={[["16_qSTIP", INK], ["1", NAVY]]} />
      {legendBox(top + 3, "15", BOX15, PALE15)}
      {legendBox(top + 45, "16", "#e0127f", PALE16)}
    </>
  );
}

const gl = (x1: number, x2: number, parts: any[], thick = false) => ({ x1, x2, parts, thick });
const P = (s: string, c = INK) => [s, c];

export default function App() {
  const blue = { fill: BOX15, sigColor: C15, bw: 13, vw: 26, labKind: "h", labColors: [NAVY, GREEN] };
  const mag = { fill: BOX16, sigColor: C16, bw: 13, vw: 26, labKind: "h", labColors: [NAVY, GREEN] };
  const v3 = [NAVY, GREEN, ORANGE];

  const jItems = [
    ...makeBoxes(SSL_BOX.slice(0, 4), SSL_OUT.slice(0, 4), SSL_VIO.slice(0, 4), SSL_SIG.slice(0, 4), G2, blue),
    ...makeBoxes(SSL_BOX.slice(4), SSL_OUT.slice(4), SSL_VIO.slice(4), SSL_SIG.slice(4), G2, mag),
  ];
  const kItems = [
    ...makeBoxes(SSW_L_BOX, SSW_L_OUT, [], SSW_L_SIG, G4, { ...blue, bw: 5, vw: 0, labKind: "k4", labColors: [NAVY, GREEN, ORANGE, RED], sigRot: true }),
    ...makeBoxes(SSW_R_BOX, SSW_R_OUT, SSW_R_VIO, SSW_R_SIG, G2, mag),
  ];
  const lItems = [
    ...makeBoxes(PSL_BOX.slice(0, 2), PSL_OUT.slice(0, 2), PSL_VIO.slice(0, 2), [], G1, { ...blue, bw: 15, labColors: [NAVY] }),
    ...makeBoxes(PSL_BOX.slice(2), PSL_OUT.slice(2), PSL_VIO.slice(2), [], G1.slice(2), { ...mag, bw: 15, labColors: [NAVY] }),
  ];
  const mItems = [
    ...makeBoxes(PEL_BOX.slice(0, 4), PEL_OUT.slice(0, 4), PEL_VIO.slice(0, 4), PEL_SIG.slice(0, 4), G2, { ...blue, bw: 14, vw: 29 }),
    ...makeBoxes(PEL_BOX.slice(4), PEL_OUT.slice(4), PEL_VIO.slice(4), PEL_SIG.slice(4), ["B", "N"], { ...mag, bw: 14, vw: 29 }),
  ];
  const nItems = [
    ...makeBoxes(ANL_BOX.slice(0, 4), ANL_OUT.slice(0, 4), ANL_VIO.slice(0, 4), ANL_SIG.slice(0, 4), G2, blue),
    ...makeBoxes(ANL_BOX.slice(4), ANL_OUT.slice(4), ANL_VIO.slice(4), ANL_SIG.slice(4), G2, mag),
  ];
  const oItems = [
    ...makeBoxes(STYL_L_BOX, STYL_L_OUT, STYL_L_VIO, STYL_L_SIG, G2, blue),
    ...makeBoxes(STYL_R_BOX, STYL_R_OUT, STYL_R_VIO, STYL_R_SIG, G3, { ...mag, bw: 7, vw: 12, labKind: "v", labColors: v3, sigRot: true }),
  ];
  const pItems = [
    ...makeBoxes(STIL_BOX.slice(0, 4), STIL_OUT.slice(0, 4), STIL_VIO.slice(0, 4), STIL_SIG.slice(0, 4), G2, blue),
    ...makeBoxes(STIL_BOX.slice(4), STIL_OUT.slice(4), STIL_VIO.slice(4), STIL_SIG.slice(4), G2, mag),
  ];
  const qItems = [
    ...makeBoxes(STIW_L_BOX, STIW_L_OUT, STIW_L_VIO, STIW_L_SIG, G3, { ...blue, bw: 8, vw: 13, labKind: "v", labColors: v3, sigRot: true }),
    ...makeBoxes(STIW_R_BOX, STIW_R_OUT, STIW_R_VIO, STIW_R_SIG, G3, { ...mag, bw: 8, vw: 13, labKind: "v", labColors: v3, sigRot: true }),
  ];

  const thr2 = [{ y: 4.65, c: C15 }, { y: 4.55, c: C16 }];
  const t12 = [0, 2, 4, 6, 8, 10, 12];

  return (
    <div style={{ position: "absolute", left: 0, top: 0, width: 740, height: 1243, background: "#fff", fontFamily: FONT, overflow: "hidden" }}>
      <style>{`.blend path{mix-blend-mode:multiply}.recharts-surface{overflow:visible}`}</style>

      <LodPanel k={0} letter="a" title="SSL" s15={SSL15} s16={SSL16} yTop={13.3} yTicks={t12} thr={thr2}
        notes={[
          { c: 5, i: 6, y: 8.7, text: "15/16_qSSL6", color: NAVY, pos: "top" },
          { c: 8, i: 10, y: 10.9, text: "15/16_qSSL9", color: NAVY, pos: "top", dx: -8 },
        ]} />
      <LodPanel k={1} letter="b" title="SSW" s15={SSW15} s16={SSW16} yTop={19.2} yTicks={[0, 5, 10, 15]}
        thr={[{ y: 4.8, c: C15 }, { y: 4.4, c: C16 }]}
        notes={[
          { c: 0, i: 9, y: 7.5, text: "15_qSSW1", color: C15, pos: "top" },
          { c: 5, i: 5, y: 8.6, text: "15_qSSW6", color: C15, pos: "left" },
          { c: 5, i: 6, y: 8.6, text: "16_qSSW6", color: C16, pos: "right" },
          { c: 6, i: 11, y: 5.6, text: "15_qSSW7", color: C15, pos: "right" },
          { c: 8, i: 10, y: 15.9, text: "15/16_qSSW9", color: NAVY, pos: "top", dx: -8 },
        ]} />
      <LodPanel k={2} letter="c" title="PSL" s15={PSL15} s16={PSL16} yTop={13.3} yTicks={t12}
        thr={[{ y: 4.5, c: "#3b3bb8" }]}
        notes={[
          { c: 5, i: 5, y: 10.2, text: "15_qPSL6", color: C15, pos: "left" },
          { c: 5, i: 6, y: 6.6, text: "16_qPSL6", color: C16, pos: "right" },
        ]} />
      <LodPanel k={3} letter="d" title="PEL" s15={PEL15} s16={PEL16} yTop={15.4} yTicks={[0, 2, 4, 6, 8, 10, 12, 14]}
        thr={[{ y: 4.8, c: C15 }, { y: 4.5, c: C16 }]}
        notes={[
          { c: 6, i: 8, y: 12.6, text: "15/16_qPEL7", color: NAVY, pos: "top" },
          { c: 8, i: 10, y: 5.8, text: "15_qPEL9", color: C15, pos: "top" },
        ]} />
      <LodPanel k={4} letter="e" title="ANL" s15={ANL15} s16={ANL16} yTop={10.1} yTicks={[0, 2, 4, 6, 8]} legend="h"
        thr={[{ y: 4.55, c: C15 }, { y: 4.45, c: C15 }]}
        notes={[
          { c: 0, i: 8, y: 6.0, text: "16_qANL1", color: C16, pos: "top", dx: -6 },
          { c: 0, i: 11, y: 5.6, text: "15_qANL1", color: C15, pos: "right" },
          { c: 8, i: 10, y: 8.4, text: "15/16_qANL9", color: NAVY, pos: "top", dx: -8 },
        ]} />
      <LodPanel k={5} letter="f" title="STYL" s15={STYL15} s16={STYL16} yTop={13.3} yTicks={t12} thr={thr2}
        notes={[
          { c: 1, i: 9, y: 6.6, text: "16_qSTYL2", color: C16, pos: "top" },
          { c: 5, i: 6, y: 11.3, text: "15/16_qSTYL6", color: NAVY, pos: "right" },
          { c: 6, i: 8, y: 8.5, text: "15/16_qSTYL7", color: NAVY, pos: "right" },
        ]} />
      <LodPanel k={6} letter="g" title="STIL" s15={STIL15} s16={STIL16} yTop={21} yTicks={[0, 5, 10, 15, 20]}
        thr={[{ y: 4.7, c: C15 }, { y: 4.55, c: C16 }]}
        notes={[
          { c: 0, i: 11, y: 6.5, text: "15/16_qSTIL1", color: NAVY, pos: "top" },
          { c: 2, i: 10, y: 17.0, text: "15/16_qSTIL3", color: NAVY, pos: "top" },
        ]} />
      <LodPanel k={7} letter="h" title="STIW" s15={STIW15} s16={STIW16} yTop={13.3} yTicks={t12} thr={thr2}
        notes={[
          { c: 2, i: 0, y: 10.9, text: "15/16_qSTIW3", color: NAVY, pos: "right" },
          { c: 5, i: 6, y: 7.6, text: "15/16_qSTIW6", color: NAVY, pos: "top" },
          { c: 8, i: 10, y: 9.9, text: "15/16_qSTIW9", color: NAVY, pos: "top", dx: -8 },
        ]} />
      <LodPanel k={8} letter="i" title="STIP" s15={STIP15} s16={STIP16} yTop={66} yTicks={[0, 10, 20, 30, 40, 50, 60]} legend="tr"
        thr={[{ y: 4.5, c: "#2b2bb0" }]} xTitle="Chromosome" ph={101}
        notes={[{ c: 0, i: 8, y: 53, text: "15/16_qSTIP1", color: NAVY, pos: "top" }]} />

      <BoxPanel k={0} letter="j" yLabel="SSL (mm)" dom={[3.82, 6.6]} ticks={[4, 4.5, 5, 5.5, 6, 6.5]} right={738}
        N={32} padL={12} padR={12} slots={[0, 4, 8, 12, 19, 23, 27, 31]} items={jItems}
        groups={[gl(507, 615, [P("15_qSSL"), P("6", NAVY), P("/"), P("9", GREEN)]), gl(637, 728, [P("16_qSSL"), P("6", NAVY), P("/"), P("9", GREEN)])]} />
      <BoxPanel k={1} letter="k" yLabel="SSW (mm)" dom={[1.32, 4.09]} ticks={[1.5, 2, 2.5, 3, 3.5, 4]} right={738}
        N={32} padL={1.5} padR={9.5} xh={34} slots={[...Array.from({ length: 16 }, (_, i) => i), 19, 23, 27, 31]} items={kItems}
        groups={[gl(507, 613, [P("15_qSSW"), P("1", NAVY), P("/"), P("6", GREEN), P("/"), P("7", ORANGE), P("/"), P("9", RED)]), gl(637, 728, [P("16_qSSW"), P("6", NAVY), P("/"), P("9", GREEN)])]} />
      <BoxPanel k={2} letter="l" yLabel="PSL (mm)" dom={[-0.42, 6.26]} ticks={[0, 2, 4, 6]} right={641}
        N={16} padL={12.5} padR={13.5} slots={[0, 4, 11, 15]} items={lItems}
        groups={[gl(509, 556, [P("15_qPSL"), P("6", NAVY)], true), gl(587, 634, [P("16_qPSL"), P("6", NAVY)], true)]}
        brackets={[
          { a: 0, b: 4, yt: 5.55, yl: 4.3, yr: 5.35, c: C15 },
          { a: 11, b: 15, yt: 4.97, yl: 4.25, yr: 4.85, c: C16 },
        ]} />
      <BoxPanel k={3} letter="m" yLabel="PEL (mm)" dom={[-0.22, 3.15]} ticks={[0, 1, 2, 3]} right={680}
        N={24} padL={11.7} padR={6.9} slots={[0, 4, 8, 12, 19, 23]} items={mItems}
        groups={[gl(508, 604, [P("15_qPEL"), P("7", NAVY), P("/"), P("9", GREEN)]), gl(634, 679, [P("16_qPEL"), P("7", NAVY)])]}
        brackets={[{ a: 19, b: 23, yt: 2.88, yl: 2.25, yr: 2.8, c: C16 }]} />
      <BoxPanel k={4} letter="n" yLabel="ANL (mm)" dom={[1.83, 4.64]} ticks={[2, 2.5, 3, 3.5, 4, 4.5]} right={738}
        N={32} padL={12} padR={12} slots={[0, 4, 8, 12, 19, 23, 27, 31]} items={nItems}
        groups={[gl(509, 604, [P("15_qANL"), P("1", NAVY), P("/"), P("9", GREEN)]), gl(636, 728, [P("16_qANL"), P("1", NAVY), P("/"), P("9", GREEN)])]} />
      <BoxPanel k={5} letter="o" yLabel="STYL (mm)" dom={[0.36, 2.58]} ticks={[0.5, 1, 1.5, 2, 2.5]} right={738}
        N={32} padL={12} padR={9} xh={34} slots={[0, 4, 8, 12, 17, 19, 21, 23, 25, 27, 29, 31]} items={oItems}
        groups={[gl(509, 604, [P("15_qSTYL"), P("6", NAVY), P("/"), P("7", GREEN)]), gl(626, 731, [P("16_qSTYL"), P("2", NAVY), P("/"), P("6", GREEN), P("/"), P("7", ORANGE)])]} />
      <BoxPanel k={6} letter="p" yLabel="STIL (mm)" dom={[0.33, 3.12]} ticks={[1, 2, 3]} right={738}
        N={32} padL={12} padR={12} slots={[0, 4, 8, 12, 19, 23, 27, 31]} items={pItems}
        groups={[gl(509, 604, [P("15_qSTIL"), P("1", NAVY), P("/"), P("3", GREEN)]), gl(636, 728, [P("16_qSTIL"), P("1", NAVY), P("/"), P("3", GREEN)])]} />
      <BoxPanel k={7} letter="q" yLabel="STIW (mm)" dom={[-0.07, 1.04]} ticks={[0, 0.5, 1]} right={738}
        N={35} padL={3.5} padR={0} xh={34} slots={[0, 2, 4, 6, 8, 10, 12, 14, 19, 21, 23, 25, 27, 29, 31, 33]} items={qItems}
        groups={[gl(506, 607, [P("15_qSTIW"), P("3", NAVY), P("/"), P("6", GREEN), P("/"), P("9", ORANGE)]), gl(630, 732, [P("16_qSTIW"), P("3", NAVY), P("/"), P("6", GREEN), P("/"), P("9", ORANGE)])]} />
      <ScorePanel />
    </div>
  );
}
